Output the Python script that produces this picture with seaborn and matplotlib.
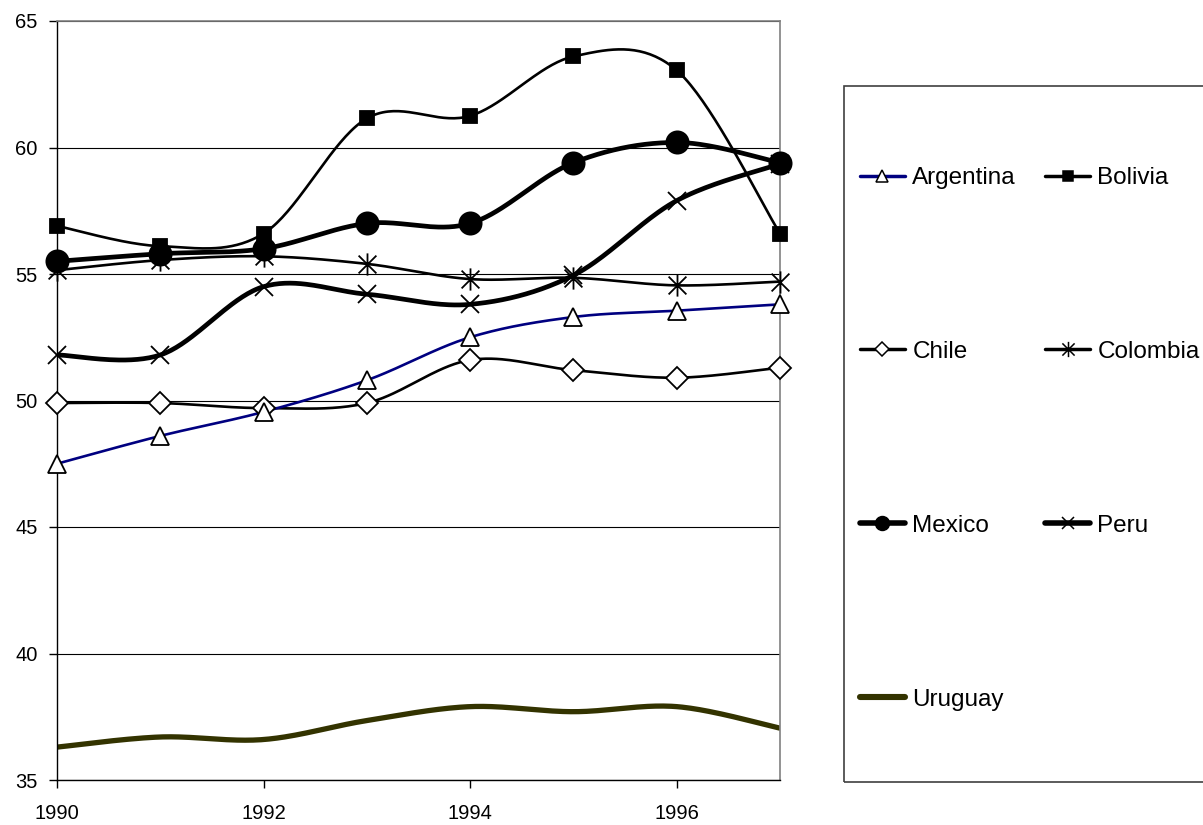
import numpy as np
import matplotlib
matplotlib.use('Agg')
import matplotlib.pyplot as plt
import seaborn as sns
from matplotlib.lines import Line2D
from matplotlib.patches import Rectangle
from matplotlib.path import Path

# data
years = [1990, 1991, 1992, 1993, 1994, 1995, 1996, 1997]
argentina = [47.5, 48.6, 49.55, 50.8, 52.5, 53.3, 53.55, 53.8]
bolivia = [56.9, 56.1, 56.6, 61.15, 61.25, 63.6, 63.05, 56.6]
chile = [49.9, 49.9, 49.7, 49.9, 51.6, 51.2, 50.9, 51.3]
colombia = [55.15, 55.55, 55.7, 55.4, 54.8, 54.85, 54.55, 54.7]
mexico = [55.5, 55.8, 56.0, 57.0, 57.0, 59.4, 60.2, 59.4]
peru = [51.8, 51.8, 54.5, 54.2, 53.8, 54.95, 57.9, 59.35]
uruguay = [36.3, 36.7, 36.6, 37.35, 37.9, 37.7, 37.9, 37.05]

y_ticks = [35, 40, 45, 50, 55, 60, 65]
x_ticks = [1990, 1992, 1994, 1996]

# excel-like asterisk: vertical bar plus an X
asterisk = Path([(0, -1), (0, 1), (-0.8, -0.8), (0.8, 0.8), (-0.8, 0.8), (0.8, -0.8)],
                [Path.MOVETO, Path.LINETO, Path.MOVETO, Path.LINETO, Path.MOVETO, Path.LINETO])


def smooth(xv, yv, n=40):
    # catmull-rom through the points, like excel's "smoothed line"
    p = np.column_stack([xv, yv]).astype(float)
    p = np.vstack([p[0], p, p[-1]])
    out = []
    t = np.linspace(0, 1, n)[:, None]
    for i in range(1, len(p) - 2):
        p0, p1, p2, p3 = p[i - 1], p[i], p[i + 1], p[i + 2]
        c1 = p1 + (p2 - p0) / 6
        c2 = p2 - (p3 - p1) / 6
        seg = ((1 - t) ** 3) * p1 + 3 * ((1 - t) ** 2) * t * c1 + 3 * (1 - t) * t ** 2 * c2 + t ** 3 * p2
        out.append(seg if i == 1 else seg[1:])
    out = np.vstack(out)
    return out[:, 0], out[:, 1]


sns.set_style('white')
plt.rcParams['font.family'] = ['Liberation Sans', 'DejaVu Sans']
plt.rcParams['text.color'] = 'black'
plt.rcParams['xtick.color'] = 'black'
plt.rcParams['ytick.color'] = 'black'

fig = plt.figure(figsize=(12.03, 8.25), dpi=100)
ax = fig.add_axes([57 / 1203, 1 - 780 / 825, 723 / 1203, 759 / 825])

series = [
    # name, values, color, line width, marker, marker size, face, legend marker size
    ('Uruguay', uruguay, '#333300', 3.8, None, 0, None, 0),
    ('Chile', chile, 'black', 1.9, 'D', 11.5, 'white', 7),
    ('Argentina', argentina, '#000080', 1.9, '^', 13, 'white', 9),
    ('Colombia', colombia, 'black', 1.9, asterisk, 16, 'black', 11),
    ('Peru', peru, 'black', 3.4, 'x', 13, 'black', 9),
    ('Bolivia', bolivia, 'black', 1.9, 's', 9.5, 'black', 7),
    ('Mexico', mexico, 'black', 3.4, 'o', 16, 'black', 10),
]

handles = {}
for name, vals, col, lw, mk, ms, face, lms in series:
    sx, sy = smooth(years, vals)
    sns.lineplot(x=sx, y=sy, ax=ax, color=col, linewidth=lw, sort=False,
                 estimator=None, solid_capstyle='round')
    if mk is not None:
        ax.plot(years, vals, linestyle='none', marker=mk, markersize=ms,
                markerfacecolor=face, markeredgecolor='black', markeredgewidth=1.3,
                clip_on=False, zorder=5)
    handles[name] = Line2D([], [], color=col, linewidth=lw + 0.6, marker=mk,
                           markersize=lms, markerfacecolor=face,
                           markeredgecolor='black', markeredgewidth=1.1)

ax.set_xlim(1990, 1997)
ax.set_ylim(35, 65)
ax.set_xticks(x_ticks)
ax.set_yticks(y_ticks)
ax.set_xticklabels([str(v) for v in x_ticks])
ax.set_yticklabels([str(v) for v in y_ticks])
ax.tick_params(axis='both', direction='out', length=6, width=1, color='black',
               labelcolor='black', labelsize=14.5, pad=8, bottom=True, left=True)
ax.tick_params(axis='x', pad=11)
ax.grid(axis='y', color='black', linewidth=0.8)
ax.grid(axis='x', visible=False)
for side in ['left', 'bottom']:
    ax.spines[side].set_color('black')
    ax.spines[side].set_linewidth(1)
for side in ['top', 'right']:
    ax.spines[side].set_color('#808080')
    ax.spines[side].set_linewidth(1.2)
ax.set_xlabel('')
ax.set_ylabel('')

# legend box, running off the right edge like the reference
fig.patches.append(Rectangle((844 / 1203, 1 - 782 / 825), 400 / 1203, 696 / 825,
                             transform=fig.transFigure, fill=False,
                             edgecolor='#404040', linewidth=1.2))

order = ['Argentina', 'Chile', 'Mexico', 'Uruguay', 'Bolivia', 'Colombia', 'Peru']
leg = fig.legend([handles[k] for k in order], order, loc='upper left',
                 bbox_to_anchor=(860 / 1203, 1 - 167 / 825), ncol=2, frameon=False,
                 fontsize=17.5, borderpad=0, borderaxespad=0, handlelength=1.85,
                 handletextpad=0.3, columnspacing=1.2, labelspacing=6.25)
for txt in leg.get_texts():
    txt.set_color('black')

fig.savefig('out.png', dpi=100)
